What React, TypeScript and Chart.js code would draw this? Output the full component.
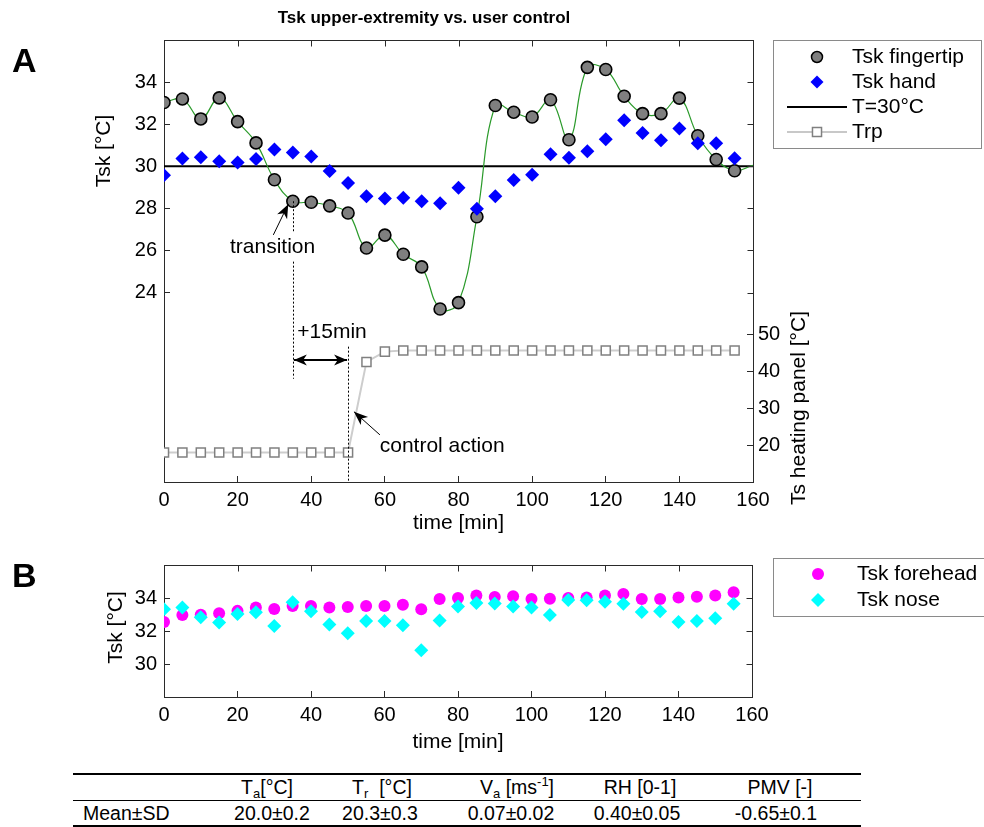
import React, { useEffect, useRef } from "react";
import { Chart, registerables } from "chart.js";

Chart.register(...registerables);

// ---- data -----------------------------------------------------------------
const timeMin = [0, 5, 10, 15, 20, 25, 30, 35, 40, 45, 50, 55, 60, 65, 70, 75, 80, 85, 90, 95, 100, 105, 110, 115, 120, 125, 130, 135, 140, 145, 150, 155];

const tskFingertip = [33.03, 33.2, 32.25, 33.25, 32.12, 31.11, 29.36, 28.34, 28.29, 28.12, 27.78, 26.12, 26.73, 25.82, 25.22, 23.22, 23.52, 27.6, 32.89, 32.57, 32.34, 33.16, 31.26, 34.7, 34.6, 33.33, 32.5, 32.5, 33.24, 31.45, 30.32, 29.79];
// smoothed fingertip curve continues to the right edge
const fitEndTime = 160;
const fitEndValue = 30.05;

const tskHand = [29.57, 30.37, 30.43, 30.24, 30.18, 30.35, 30.8, 30.65, 30.46, 29.78, 29.2, 28.58, 28.47, 28.5, 28.34, 28.24, 28.98, 27.98, 28.58, 29.35, 29.6, 30.57, 30.4, 30.72, 31.29, 32.19, 31.58, 31.24, 31.8, 31.09, 31.09, 30.38];

const thresholdT = 30;

const trpPanel = [18, 18, 18, 18, 18, 18, 18, 18, 18, 18, 18, 42.6, 45.4, 45.7, 45.7, 45.7, 45.7, 45.7, 45.7, 45.7, 45.7, 45.7, 45.7, 45.7, 45.7, 45.7, 45.7, 45.7, 45.7, 45.7, 45.7, 45.7];

const tskForehead = [32.55, 32.97, 32.99, 33.07, 33.22, 33.42, 33.34, 33.51, 33.51, 33.42, 33.46, 33.51, 33.51, 33.59, 33.32, 33.94, 34.0, 34.15, 34.06, 34.1, 33.94, 33.96, 34.0, 34.03, 34.15, 34.25, 33.94, 33.94, 34.03, 34.08, 34.15, 34.35];

const tskNose = [33.32, 33.42, 32.84, 32.51, 33.03, 33.13, 32.31, 33.74, 33.19, 32.39, 31.87, 32.6, 32.6, 32.35, 30.84, 32.64, 33.48, 33.69, 33.67, 33.49, 33.42, 32.97, 33.88, 33.86, 33.77, 33.65, 33.15, 33.19, 32.55, 32.6, 32.78, 33.65];

// axis ticks
const timeTicks = [0, 20, 40, 60, 80, 100, 120, 140, 160];
const tskTicksA = [24, 26, 28, 30, 32, 34];
const panelTicks = [20, 30, 40, 50];
const tskTicksB = [30, 32, 34];

// annotation anchors (time in min, temperature on the left axis)
const transitionTime = 35;
const controlTime = 50;

// conditions table
const tableHeaders = [
  { main: "T", sub: "a", tail: "[°C]" },
  { main: "T", sub: "r", tail: "  [°C]" },
  { main: "V", sub: "a", tail: " [ms", sup: "-1", end: "]" },
  { main: "RH [0-1]" },
  { main: "PMV [-]" },
];
const tableRowLabel = "Mean±SD";
const tableValues = ["20.0±0.2", "20.3±0.3", "0.07±0.02", "0.40±0.05", "-0.65±0.1"];

// ---- style ----------------------------------------------------------------
const FONT = "'Liberation Sans', Arial, Helvetica, sans-serif";
const AX = "#2a2a2a";
const TICK_FONT = { family: FONT, size: 20 };
const LABEL_PX = 21;

const pts = (ys: number[]) => timeMin.map((t, i) => ({ x: t, y: ys[i] }));
const fixedTicks = (vals: number[]) => (scale: any) => {
  scale.ticks = vals.map((v) => ({ value: v }));
};

function line(ctx: CanvasRenderingContext2D, x1: number, y1: number, x2: number, y2: number) {
  ctx.beginPath();
  ctx.moveTo(x1, y1);
  ctx.lineTo(x2, y2);
  ctx.stroke();
}

function arrowHead(ctx: CanvasRenderingContext2D, fx: number, fy: number, tx: number, ty: number, len: number, half: number) {
  const a = Math.atan2(ty - fy, tx - fx);
  const c = Math.cos(a);
  const s = Math.sin(a);
  const bx = tx - len * c;
  const by = ty - len * s;
  ctx.beginPath();
  ctx.moveTo(tx, ty);
  ctx.lineTo(bx - half * s, by + half * c);
  ctx.lineTo(tx - len * 0.72 * c, ty - len * 0.72 * s);
  ctx.lineTo(bx + half * s, by - half * c);
  ctx.closePath();
  ctx.fill();
}

function arrow(ctx: CanvasRenderingContext2D, fx: number, fy: number, tx: number, ty: number, lw: number, len: number, half: number, both = false) {
  ctx.save();
  ctx.strokeStyle = "#000";
  ctx.fillStyle = "#000";
  ctx.lineWidth = lw;
  line(ctx, fx, fy, tx, ty);
  arrowHead(ctx, fx, fy, tx, ty, len, half);
  if (both) arrowHead(ctx, tx, ty, fx, fy, len, half);
  ctx.restore();
}

function marker(ctx: CanvasRenderingContext2D, kind: string, x: number, y: number, r: number, fill: string, stroke: string, lw: number) {
  ctx.save();
  ctx.beginPath();
  if (kind === "circle") ctx.arc(x, y, r, 0, Math.PI * 2);
  else if (kind === "diamond") {
    ctx.moveTo(x, y - r);
    ctx.lineTo(x + r, y);
    ctx.lineTo(x, y + r);
    ctx.lineTo(x - r, y);
    ctx.closePath();
  } else {
    const h = r * Math.SQRT1_2;
    ctx.rect(x - h, y - h, 2 * h, 2 * h);
  }
  ctx.fillStyle = fill;
  ctx.fill();
  if (lw > 0) {
    ctx.lineWidth = lw;
    ctx.strokeStyle = stroke;
    ctx.stroke();
  }
  ctx.restore();
}

function text(ctx: CanvasRenderingContext2D, s: string, x: number, y: number, px: number, align: CanvasTextAlign = "left", rot = 0, bold = false) {
  ctx.save();
  ctx.font = `${bold ? "bold " : ""}${px}px ${FONT}`;
  ctx.fillStyle = "#000";
  ctx.textAlign = align;
  ctx.textBaseline = "middle";
  ctx.translate(x, y);
  ctx.rotate(rot);
  ctx.fillText(s, 0, 0);
  ctx.restore();
}

// box top edge, mirrored ticks on the top and right edges
function drawFrame(chart: any, yScaleId: string, mirrorRight: boolean) {
  const { ctx, chartArea: ca } = chart;
  const xs = chart.scales.x;
  const ys = chart.scales[yScaleId];
  ctx.save();
  ctx.strokeStyle = AX;
  ctx.lineWidth = 1;
  const top = Math.round(ca.top) + 0.5;
  line(ctx, ca.left, top, ca.right, top);
  xs.ticks.forEach((t: any) => {
    const px = Math.round(xs.getPixelForValue(t.value)) + 0.5;
    line(ctx, px, top, px, top + 6);
  });
  if (mirrorRight) {
    const right = Math.round(ca.right) + 0.5;
    line(ctx, right, ca.top, right, ca.bottom);
    ys.ticks.forEach((t: any) => {
      const py = Math.round(ys.getPixelForValue(t.value)) + 0.5;
      line(ctx, right, py, right - 6, py);
    });
  } else {
    const right = Math.round(ca.right) + 0.5;
    ys.ticks.forEach((t: any) => {
      const py = Math.round(ys.getPixelForValue(t.value)) + 0.5;
      line(ctx, right, py, right - 6, py);
    });
  }
  ctx.restore();
}

const panelAPlugin = {
  id: "panelADecor",
  afterDraw(chart: any) {
    const { ctx } = chart;
    const xs = chart.scales.x;
    const ys = chart.scales.y;
    const X = (t: number) => xs.getPixelForValue(t);
    const Y = (v: number) => ys.getPixelForValue(v);

    drawFrame(chart, "y", false);

    // headings and axis titles
    text(ctx, "Tsk upper-extremity vs. user control", 424, 18, 17, "center", 0, true);
    text(ctx, "A", 12, 63, 34, "left", 0, true);
    text(ctx, "Tsk [°C]", 104, 151, LABEL_PX, "center", -Math.PI / 2);
    text(ctx, "Ts heating panel [°C]", 799, 408, LABEL_PX, "center", -Math.PI / 2);

    // transition / control annotations
    ctx.save();
    ctx.strokeStyle = "#000";
    ctx.lineWidth = 1;
    ctx.setLineDash([2, 2]);
    const xt = Math.round(X(transitionTime)) + 0.5;
    line(ctx, xt, Y(tskFingertip[7]), xt, Y(26.9));
    line(ctx, xt, Y(25.47), xt, Y(19.9));
    const xc = Math.round(X(controlTime)) + 0.5;
    line(ctx, xc, Y(21.43), xc, Y(15));
    ctx.restore();

    arrow(ctx, X(transitionTime) + 1, Y(20.8), X(controlTime) - 1, Y(20.8), 2, 13, 5.5, true);
    arrow(ctx, X(29.7), Y(26.74), X(33.75), Y(28.2), 1, 14, 5.5);
    arrow(ctx, X(58.65), Y(17.24), X(51.6), Y(18.34), 1, 14, 5.5);

    text(ctx, "transition", X(29.5), Y(26.17), LABEL_PX, "center");
    text(ctx, "+15min", X(36.2), Y(22.1), LABEL_PX, "left");
    text(ctx, "control action", X(58.6), Y(16.68), LABEL_PX, "left");

    // legend
    ctx.save();
    ctx.strokeStyle = "#8a8a8a";
    ctx.lineWidth = 1;
    ctx.strokeRect(773.5, 40.5, 208, 108);
    ctx.restore();
    const mx = 817;
    const tx = 852;
    marker(ctx, "circle", mx, 57, 5.5, "#7f7f7f", "#000", 1.5);
    text(ctx, "Tsk fingertip", tx, 57, LABEL_PX);
    marker(ctx, "diamond", mx, 82, 6.5, "#0000ff", "#0000ff", 0);
    text(ctx, "Tsk hand", tx, 82, LABEL_PX);
    ctx.save();
    ctx.strokeStyle = "#000";
    ctx.lineWidth = 2;
    line(ctx, 787, 107, 847, 107);
    ctx.strokeStyle = "#c8c8c8";
    line(ctx, 787, 132, 847, 132);
    ctx.restore();
    marker(ctx, "rect", mx, 132, 6.4, "#ffffff", "#808080", 1.5);
    text(ctx, "T=30°C", tx, 107, LABEL_PX);
    text(ctx, "Trp", tx, 132, LABEL_PX);
  },
};

const B_TOP = 540;

const panelBPlugin = {
  id: "panelBDecor",
  afterDraw(chart: any) {
    const { ctx } = chart;
    drawFrame(chart, "y", true);
    text(ctx, "B", 12, 578 - B_TOP, 34, "left", 0, true);
    text(ctx, "Tsk [°C]", 116, 627.5 - B_TOP, LABEL_PX, "center", -Math.PI / 2);

    ctx.save();
    ctx.strokeStyle = "#8a8a8a";
    ctx.lineWidth = 1;
    ctx.strokeRect(773.5, 558.5 - B_TOP, 240, 58);
    ctx.restore();
    marker(ctx, "circle", 818, 574 - B_TOP, 6, "#ff00ff", "#ff00ff", 0);
    text(ctx, "Tsk forehead", 857, 574 - B_TOP, LABEL_PX);
    marker(ctx, "diamond", 818, 600 - B_TOP, 7, "#00ffff", "#00ffff", 0);
    text(ctx, "Tsk nose", 857, 600 - B_TOP, LABEL_PX);
  },
};

function axisCommon(extra: any) {
  return {
    type: "linear",
    grid: { drawOnChartArea: false, drawTicks: true, tickLength: -6, color: AX, tickColor: AX, lineWidth: 1 },
    border: { display: true, color: AX, width: 1 },
    ...extra,
    ticks: { font: TICK_FONT, color: "#000", autoSkip: false, maxRotation: 0, ...(extra.ticks || {}) },
  };
}

function PanelA() {
  const ref = useRef<HTMLCanvasElement>(null);
  useEffect(() => {
    if (!ref.current) return;
    const chart = new Chart(ref.current, {
      type: "line",
      data: {
        datasets: [
          {
            label: "Tsk hand",
            data: pts(tskHand),
            showLine: false,
            pointStyle: "rectRot",
            pointRadius: 7,
            pointBackgroundColor: "#0000ff",
            pointBorderColor: "#0000ff",
            pointBorderWidth: 0,
            yAxisID: "y",
          },
          {
            label: "Tsk fingertip",
            data: pts(tskFingertip),
            showLine: false,
            pointStyle: "circle",
            pointRadius: 6,
            pointBackgroundColor: "#7f7f7f",
            pointBorderColor: "#000",
            pointBorderWidth: 1.6,
            yAxisID: "y",
          },
          {
            label: "fingertip fit",
            data: [...pts(tskFingertip), { x: fitEndTime, y: fitEndValue }],
            borderColor: "#2a9a2a",
            borderWidth: 1.2,
            pointRadius: 0,
            tension: 0.4,
            yAxisID: "y",
          },
          {
            label: "T=30°C",
            data: [{ x: 0, y: thresholdT }, { x: 160, y: thresholdT }],
            borderColor: "#000",
            borderWidth: 2,
            pointRadius: 0,
            yAxisID: "y",
          },
          {
            label: "Trp",
            data: pts(trpPanel),
            borderColor: "#cdcdcd",
            borderWidth: 2,
            pointStyle: "rect",
            pointRadius: 6.4,
            pointBackgroundColor: "#ffffff",
            pointBorderColor: "#808080",
            pointBorderWidth: 1.5,
            tension: 0,
            yAxisID: "y2",
          },
        ],
      },
      options: {
        responsive: false,
        animation: false,
        events: [],
        layout: { padding: { top: 40, left: 0, right: 0, bottom: 0 } },
        plugins: { legend: { display: false }, tooltip: { enabled: false } },
        scales: {
          x: axisCommon({
            position: "bottom",
            min: 0,
            max: 160,
            afterBuildTicks: fixedTicks(timeTicks),
            afterFit: (s: any) => { s.height = 58; },
            ticks: { padding: 12 },
            title: { display: true, text: "time [min]", color: "#000", font: { family: FONT, size: LABEL_PX }, padding: { top: 0, bottom: 4.4 } },
          }),
          y: axisCommon({
            position: "left",
            min: 15,
            max: 36,
            afterBuildTicks: fixedTicks(tskTicksA),
            afterFit: (s: any) => { s.width = 164; },
            ticks: { padding: 13 },
          }),
          y2: axisCommon({
            position: "right",
            min: 10,
            max: 130,
            afterBuildTicks: fixedTicks(panelTicks),
            afterFit: (s: any) => { s.width = 231; },
            ticks: { padding: 11 },
          }),
        },
      },
      plugins: [panelAPlugin],
    } as any);
    return () => chart.destroy();
  }, []);
  return <canvas ref={ref} width={984} height={540} style={{ position: "absolute", left: 0, top: 0 }} />;
}

function PanelB() {
  const ref = useRef<HTMLCanvasElement>(null);
  useEffect(() => {
    if (!ref.current) return;
    const chart = new Chart(ref.current, {
      type: "line",
      data: {
        datasets: [
          {
            label: "Tsk nose",
            data: pts(tskNose),
            showLine: false,
            pointStyle: "rectRot",
            pointRadius: 7,
            pointBackgroundColor: "#00ffff",
            pointBorderColor: "#00ffff",
            pointBorderWidth: 0,
          },
          {
            label: "Tsk forehead",
            data: pts(tskForehead),
            showLine: false,
            pointStyle: "circle",
            pointRadius: 6,
            pointBackgroundColor: "#ff00ff",
            pointBorderColor: "#ff00ff",
            pointBorderWidth: 0,
          },
        ],
      },
      options: {
        responsive: false,
        animation: false,
        events: [],
        layout: { padding: { top: 18, left: 0, right: 232, bottom: 0 } },
        plugins: { legend: { display: false }, tooltip: { enabled: false } },
        scales: {
          x: axisCommon({
            position: "bottom",
            min: 0,
            max: 160,
            afterBuildTicks: fixedTicks(timeTicks),
            afterFit: (s: any) => { s.height = 63; },
            ticks: { padding: 12 },
            title: { display: true, text: "time [min]", color: "#000", font: { family: FONT, size: LABEL_PX }, padding: { top: 0, bottom: 5.4 } },
          }),
          y: axisCommon({
            position: "left",
            min: 28,
            max: 36,
            afterBuildTicks: fixedTicks(tskTicksB),
            afterFit: (s: any) => { s.width = 164; },
            ticks: { padding: 13 },
          }),
        },
      },
      plugins: [panelBPlugin],
    } as any);
    return () => chart.destroy();
  }, []);
  return <canvas ref={ref} width={984} height={220} style={{ position: "absolute", left: 0, top: B_TOP }} />;
}

const headerCenters = [267, 382, 517, 640, 780];
const valueCenters = [272, 380, 511, 637, 776];

function ConditionsTable() {
  const cell = (left: number, top: number, children: React.ReactNode, center = true) => (
    <div
      style={{
        position: "absolute",
        left,
        top,
        transform: center ? "translateX(-50%)" : undefined,
        whiteSpace: "pre",
        fontFamily: FONT,
        fontSize: 19.5,
        lineHeight: "20px",
        color: "#000",
      }}
    >
      {children}
    </div>
  );
  const small = { fontSize: 13, lineHeight: "10px" };
  return (
    <>
      <div style={{ position: "absolute", left: 73, top: 773, width: 788, height: 1.5, background: "#000" }} />
      <div style={{ position: "absolute", left: 73, top: 799.5, width: 788, height: 1, background: "#000" }} />
      <div style={{ position: "absolute", left: 73, top: 825, width: 788, height: 1.5, background: "#000" }} />
      {tableHeaders.map((h, i) =>
        cell(
          headerCenters[i],
          777,
          <span key={i}>
            {h.main}
            {h.sub ? <sub style={{ ...small, verticalAlign: "-4px" }}>{h.sub}</sub> : null}
            {h.tail || ""}
            {h.sup ? <sup style={{ ...small, verticalAlign: "8px" }}>{h.sup}</sup> : null}
            {h.end || ""}
          </span>
        )
      )}
      {cell(83, 803, tableRowLabel, false)}
      {tableValues.map((v, i) => cell(valueCenters[i], 803, v))}
    </>
  );
}

export default function App() {
  return (
    <div style={{ position: "absolute", left: 0, top: 0, width: 984, height: 827, background: "#fff", overflow: "hidden" }}>
      <PanelA />
      <PanelB />
      <ConditionsTable />
    </div>
  );
}
